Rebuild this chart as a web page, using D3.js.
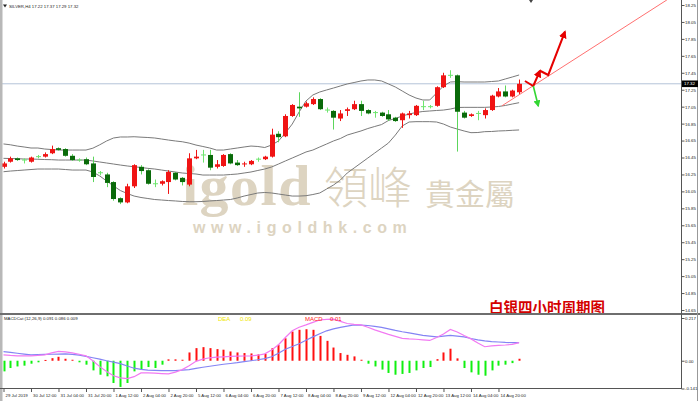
<!DOCTYPE html>
<html><head><meta charset="utf-8">
<script src="https://cdn.jsdelivr.net/npm/d3@7"></script>
<style>body{margin:0;background:#fff;overflow:hidden}svg{display:block}</style>
</head><body><svg id="c" width="700" height="401"></svg>
<script>
// ---------- DATA ----------
const open  = [16.34,16.40,16.44,16.42,16.40,16.46,16.46,16.50,16.56,16.55,16.47,16.42,16.43,16.38,16.27,16.25,16.16,15.97,15.92,16.11,16.34,16.30,16.14,16.14,16.16,16.27,16.21,16.13,16.44,16.48,16.48,16.34,16.35,16.49,16.39,16.37,16.37,16.43,16.43,16.46,16.73,16.70,16.94,17.05,17.05,17.08,17.14,17.01,17.00,16.91,17.00,17.02,17.08,17.01,16.98,16.98,16.96,16.92,16.89,16.95,16.95,17.05,17.05,17.06,17.28,17.42,17.42,16.98,16.94,16.97,16.95,17.01,17.17,17.23,17.17,17.22];
const high  = [16.40,16.46,16.45,16.44,16.46,16.48,16.51,16.59,16.57,16.56,16.49,16.44,16.45,16.46,16.29,16.27,16.17,15.98,16.14,16.37,16.36,16.31,16.19,16.18,16.30,16.28,16.22,16.50,16.54,16.54,16.54,16.42,16.49,16.50,16.42,16.40,16.42,16.45,16.47,16.79,16.76,16.96,17.08,17.22,17.11,17.16,17.15,17.04,17.01,17.01,17.04,17.12,17.12,17.02,17.00,16.99,17.01,16.93,16.98,17.00,17.07,17.12,17.07,17.29,17.45,17.48,17.43,17.00,16.97,17.00,17.03,17.19,17.27,17.30,17.25,17.37];
const low   = [16.32,16.39,16.41,16.38,16.39,16.44,16.45,16.49,16.53,16.46,16.41,16.40,16.36,16.16,16.24,16.10,15.94,15.90,15.91,16.09,16.25,16.13,16.10,16.12,16.02,16.18,16.12,16.11,16.43,16.39,16.30,16.32,16.34,16.37,16.35,16.34,16.36,16.40,16.42,16.45,16.63,16.69,16.93,16.93,17.04,17.07,17.01,16.98,16.78,16.88,16.94,17.01,16.94,16.96,16.92,16.93,16.88,16.87,16.80,16.91,16.94,17.01,17.03,17.05,17.27,17.39,16.52,16.91,16.93,16.89,16.91,17.00,17.16,17.16,17.16,17.20];
const close = [16.38,16.44,16.42,16.42,16.45,16.46,16.49,16.55,16.54,16.47,16.42,16.42,16.37,16.22,16.27,16.15,15.96,15.92,16.11,16.36,16.29,16.14,16.14,16.17,16.28,16.19,16.16,16.44,16.46,16.48,16.33,16.37,16.48,16.38,16.36,16.38,16.41,16.43,16.46,16.72,16.69,16.94,17.07,17.03,17.09,17.14,17.02,17.01,16.92,16.97,17.02,17.08,17.00,16.97,16.98,16.94,16.90,16.88,16.97,16.97,17.06,17.05,17.05,17.28,17.42,17.42,16.99,16.92,16.96,16.97,17.01,17.18,17.23,17.17,17.24,17.32];

const bbUpper = [16.61,16.60,16.585,16.574,16.562,16.562,16.55,16.544,16.538,16.538,16.538,16.538,16.538,16.56,16.60,16.645,16.68,16.692,16.692,16.695,16.69,16.686,16.68,16.668,16.656,16.645,16.636,16.62,16.597,16.58,16.562,16.538,16.538,16.55,16.562,16.574,16.585,16.58,16.568,16.597,16.645,16.739,16.845,16.987,17.117,17.188,17.223,17.247,17.27,17.294,17.318,17.335,17.353,17.365,17.365,17.353,17.318,17.282,17.235,17.188,17.152,17.129,17.129,17.211,17.294,17.341,17.345,17.341,17.341,17.341,17.341,17.347,17.353,17.377,17.40,17.424];
const bbMid   = [16.44,16.438,16.436,16.432,16.432,16.429,16.426,16.424,16.42,16.42,16.42,16.42,16.42,16.409,16.397,16.385,16.373,16.361,16.35,16.341,16.332,16.322,16.314,16.302,16.29,16.279,16.267,16.261,16.255,16.243,16.243,16.243,16.243,16.249,16.255,16.267,16.279,16.297,16.314,16.338,16.373,16.409,16.444,16.479,16.515,16.538,16.574,16.609,16.645,16.674,16.715,16.739,16.763,16.792,16.816,16.839,16.887,16.91,16.94,16.963,16.981,16.993,16.999,17.005,17.01,17.022,17.04,17.042,17.042,17.042,17.042,17.046,17.052,17.064,17.081,17.097];
const bbLower = [16.282,16.29,16.296,16.302,16.308,16.314,16.314,16.314,16.314,16.308,16.302,16.302,16.302,16.279,16.232,16.173,16.114,16.06,16.025,15.995,15.978,15.966,15.954,15.948,15.942,15.937,15.931,15.928,15.928,15.931,15.937,15.942,15.948,15.954,15.972,15.995,16.013,16.031,16.037,16.031,16.019,16.007,15.995,15.995,15.999,16.013,16.031,16.078,16.125,16.184,16.267,16.326,16.385,16.444,16.503,16.562,16.621,16.715,16.822,16.869,16.873,16.873,16.873,16.869,16.845,16.81,16.786,16.763,16.743,16.745,16.755,16.757,16.763,16.766,16.771,16.775];

const macdHist = [-0.054,-0.037,-0.029,-0.025,-0.015,-0.008,0.004,0.013,0.020,0.010,0.005,-0.008,-0.020,-0.049,-0.071,-0.079,-0.113,-0.133,-0.113,-0.054,-0.042,-0.032,-0.037,-0.020,0.007,0.007,0.005,0.042,0.064,0.069,0.064,0.059,0.056,0.047,0.042,0.039,0.037,0.032,0.035,0.064,0.081,0.114,0.148,0.157,0.160,0.157,0.126,0.101,0.067,0.039,0.030,0.022,0.005,-0.015,-0.029,-0.045,-0.062,-0.071,-0.067,-0.062,-0.049,-0.037,-0.032,0.008,0.042,0.061,0.012,-0.037,-0.059,-0.071,-0.076,-0.049,-0.025,-0.020,-0.012,0.010];
const macdLine = [0.030,0.027,0.025,0.025,0.025,0.027,0.030,0.040,0.047,0.045,0.040,0.033,0.025,0.000,-0.030,-0.055,-0.076,-0.087,-0.091,-0.081,-0.062,-0.062,-0.063,-0.065,-0.067,-0.058,-0.045,-0.025,-0.003,0.008,0.015,0.018,0.020,0.022,0.023,0.024,0.025,0.028,0.035,0.055,0.081,0.118,0.152,0.170,0.182,0.195,0.207,0.210,0.211,0.200,0.189,0.185,0.182,0.170,0.157,0.145,0.134,0.124,0.114,0.111,0.109,0.106,0.103,0.118,0.136,0.159,0.146,0.128,0.111,0.090,0.071,0.075,0.078,0.080,0.083,0.092];
const signalLine = [0.046,0.042,0.038,0.034,0.030,0.031,0.032,0.033,0.034,0.035,0.032,0.028,0.022,0.015,0.008,0.000,-0.007,-0.015,-0.027,-0.038,-0.044,-0.048,-0.049,-0.050,-0.050,-0.050,-0.048,-0.045,-0.039,-0.033,-0.028,-0.023,-0.018,-0.014,-0.010,-0.005,0.000,0.005,0.011,0.020,0.038,0.058,0.072,0.086,0.104,0.121,0.137,0.152,0.162,0.169,0.176,0.182,0.181,0.179,0.174,0.169,0.162,0.154,0.147,0.141,0.135,0.129,0.125,0.121,0.125,0.129,0.125,0.121,0.113,0.106,0.101,0.097,0.095,0.093,0.092,0.092];

const timeLabels = ["29 Jul 2019","30 Jul 12:00","31 Jul 04:00","31 Jul 20:00","1 Aug 12:00","2 Aug 04:00","2 Aug 20:00","5 Aug 12:00","6 Aug 04:00","6 Aug 20:00","7 Aug 12:00","8 Aug 04:00","8 Aug 20:00","9 Aug 12:00","12 Aug 04:00","12 Aug 20:00","13 Aug 12:00","14 Aug 04:00","14 Aug 20:00"];
const labelStep = 4;
const priceTicks = [18.25,18.05,17.85,17.65,17.45,17.25,17.05,16.85,16.65,16.45,16.25,16.05,15.85,15.65,15.45,15.25,15.05,14.85,14.65];
const macdTicks = [0.217,0.00,-0.141];
const macdTickText = ["0.217","0.00","-0.141"];
const lastPrice = 17.32;

const trendLine = [{i:72.5,p:17.06},{i:96.5,p:18.31}];
const redArrowA = [{i:75.85,p:17.353},{i:77.06,p:17.294},{i:78.04,p:17.474}];
const redArrowB = [{i:78.04,p:17.474},{i:79.24,p:17.424},{i:81.67,p:17.935}];
const greenArrow = [{i:77.06,p:17.294},{i:77.79,p:17.058}];

const headerText = "SILVER,H4  17.22  17.37  17.29  17.32";
const macdTitle = "MACDCat (12,26,9) 0.091 0.086 0.009";
const chartTitle = "白银四小时周期图";

// ---------- LAYOUT ----------
const svg = d3.select('#c');
const axisX = 681, mainBot = 313, macdTop = 315, macdBot = 388.5;
const x = d3.scaleLinear().domain([0, 75]).range([3.5, 519.1]);
const y = d3.scaleLinear().domain([14.65, 18.25]).range([310, 5]);
const ym = d3.scaleLinear().domain([-0.141, 0.217]).range([388.5, 318]);
const idx = d3.range(close.length);

svg.append('rect').attr('width',700).attr('height',401).attr('fill','#fff');

const defs = svg.append('defs');
defs.append('clipPath').attr('id','mainClip').append('rect').attr('x',0).attr('y',0).attr('width',axisX).attr('height',mainBot);
defs.append('clipPath').attr('id','macdClip').append('rect').attr('x',0).attr('y',macdTop).attr('width',axisX).attr('height',macdBot-macdTop);
function marker(id,color,size){
  defs.append('marker').attr('id',id).attr('viewBox','0 0 10 10').attr('refX',8).attr('refY',5)
    .attr('markerWidth',size).attr('markerHeight',size).attr('markerUnits','userSpaceOnUse').attr('orient','auto')
    .append('path').attr('d','M0,0L10,5L0,10z').attr('fill',color);
}
marker('arR','#e60000',8);
marker('arG','#33d633',7);

// ---------- WATERMARK ----------
const wm = svg.append('g').attr('fill','#ddd4c1');
wm.append('text').attr('x',182).attr('y',205).attr('font-family','"Liberation Serif",serif').attr('font-weight','bold').attr('font-size',58).attr('letter-spacing',1.5).text('igold');
wm.append('text').attr('x',324).attr('y',204).attr('font-family','"Noto Sans CJK TC"').attr('font-weight',300).attr('font-size',44).text('領峰');
wm.append('text').attr('x',425).attr('y',205).attr('font-family','"Noto Sans CJK TC"').attr('font-weight',400).attr('font-size',30).text('貴金屬');
wm.append('text').attr('x',193).attr('y',233).attr('font-family','"Liberation Sans",sans-serif').attr('font-weight','bold').attr('font-size',16).attr('letter-spacing',5.6).text('www.igoldhk.com');

// ---------- MAIN PANEL ----------
const main = svg.append('g').attr('clip-path','url(#mainClip)');
main.append('line').attr('x1',0).attr('x2',axisX).attr('y1',y(lastPrice)).attr('y2',y(lastPrice)).attr('stroke','#b4c4d8').attr('stroke-width',1);

const bandLine = arr => d3.line().x((d,i)=>x(i)).y(d=>y(d))(arr);
[bbUpper,bbMid,bbLower].forEach(a=>{
  main.append('path').attr('d',bandLine(a)).attr('fill','none').attr('stroke','#7a7a7a').attr('stroke-width',1);
});

const up='#f01414', dn='#0a6a0a', dnWick='#5cd65c', doji='#6ee66e';
const cg = main.append('g');
idx.forEach(i=>{
  const o=open[i], c=close[i], h=high[i], l=low[i];
  const cx=Math.round(x(i))+0.5;
  const isUp=c>o, isDoji=c===o;
  const wc = isUp?up:(isDoji?doji:dnWick);
  cg.append('line').attr('x1',cx).attr('x2',cx).attr('y1',y(h)).attr('y2',y(l)).attr('stroke',wc).attr('stroke-width',1);
  if(isDoji){
    cg.append('line').attr('x1',cx-2.5).attr('x2',cx+2.5).attr('y1',y(c)).attr('y2',y(c)).attr('stroke',doji).attr('stroke-width',1);
  } else {
    const top=y(Math.max(o,c)), bot=y(Math.min(o,c));
    cg.append('rect').attr('x',cx-2.5).attr('width',5).attr('y',top).attr('height',Math.max(1,bot-top)).attr('fill',isUp?up:dn);
  }
});

const pl = d3.line().x(d=>x(d.i)).y(d=>y(d.p));
main.append('path').attr('d',pl(trendLine)).attr('stroke','#ff7070').attr('stroke-width',1).attr('fill','none');
main.append('path').attr('d',pl(redArrowA)).attr('stroke','#e60000').attr('stroke-width',2).attr('fill','none').attr('marker-end','url(#arR)');
main.append('path').attr('d',pl(redArrowB)).attr('stroke','#e60000').attr('stroke-width',2).attr('fill','none').attr('marker-end','url(#arR)');
main.append('path').attr('d',pl(greenArrow)).attr('stroke','#33d633').attr('stroke-width',1.6).attr('fill','none').attr('marker-end','url(#arG)');

// header
svg.append('path').attr('d','M3,4.5L7,4.5L5,7.5z').attr('fill','#222');
svg.append('text').attr('x',9).attr('y',7.5).attr('font-family','"Liberation Sans",sans-serif').attr('font-size',4.3).attr('fill','#222').text(headerText);
svg.append('path').attr('d','M529,0L533,0L531,3z').attr('fill','#444');

// chart title
svg.append('text').attr('x',489).attr('y',313).attr('font-family','"Noto Sans CJK SC"').attr('font-weight','bold').attr('font-size',14.5).attr('fill','#d40000').text(chartTitle);

// ---------- MACD PANEL ----------
const mg = svg.append('g').attr('clip-path','url(#macdClip)');
idx.forEach(i=>{
  const v=macdHist[i];
  const cx=Math.round(x(i));
  mg.append('rect').attr('x',cx-0.5).attr('width',2)
    .attr('y',Math.min(ym(0),ym(v))).attr('height',Math.max(1,Math.abs(ym(v)-ym(0))))
    .attr('fill',v>=0?'#ff1010':'#10f010');
});
const ml = d3.line().x((d,i)=>x(i)).y(d=>ym(d));
mg.append('path').attr('d',ml(signalLine)).attr('fill','none').attr('stroke','#8484f4').attr('stroke-width',1.2);
mg.append('path').attr('d',ml(macdLine)).attr('fill','none').attr('stroke','#f27af2').attr('stroke-width',1.2);

svg.append('text').attr('x',4).attr('y',320).attr('font-family','"Liberation Sans",sans-serif').attr('font-size',4.3).attr('fill','#222').text(macdTitle);
const legF='"Liberation Sans",sans-serif';
svg.append('text').attr('x',218).attr('y',321).attr('font-family',legF).attr('font-size',6).attr('fill','#f0e600').text('DEA');
svg.append('text').attr('x',240).attr('y',321).attr('font-family',legF).attr('font-size',6).attr('fill','#f0e600').text('0.09');
svg.append('text').attr('x',305).attr('y',321).attr('font-family',legF).attr('font-size',6).attr('fill','#ff2020').text('MACD');
svg.append('text').attr('x',330).attr('y',321).attr('font-family',legF).attr('font-size',6).attr('fill','#ff2020').text('0.01');

// ---------- FRAMES & AXES ----------
svg.append('rect').attr('x',0).attr('y',0).attr('width',2.5).attr('height',401).attr('fill','#b8b8b8');
svg.append('line').attr('x1',0).attr('x2',700).attr('y1',314).attr('y2',314).attr('stroke','#6e6e6e').attr('stroke-width',2);
svg.append('line').attr('x1',axisX+0.5).attr('x2',axisX+0.5).attr('y1',0).attr('y2',macdBot).attr('stroke','#555').attr('stroke-width',1);
svg.append('line').attr('x1',0).attr('x2',axisX+1).attr('y1',macdBot).attr('y2',macdBot).attr('stroke','#555').attr('stroke-width',1);
svg.append('line').attr('x1',697.5).attr('x2',697.5).attr('y1',0).attr('y2',401).attr('stroke','#999').attr('stroke-width',1);

const yAxis = d3.axisRight(y).tickValues(priceTicks).tickSize(3).tickFormat(d3.format('.2f'));
const ya = svg.append('g').attr('transform',`translate(${axisX+0.5},0)`).call(yAxis);
ya.select('.domain').remove();
ya.selectAll('line').attr('stroke','#555');
ya.selectAll('text').attr('x',3.5).attr('font-size',4.4).attr('font-family',legF).attr('fill','#222');

const mAxis = d3.axisRight(ym).tickValues(macdTicks).tickSize(3).tickFormat((d,i)=>macdTickText[i]);
const ma = svg.append('g').attr('transform',`translate(${axisX+0.5},0)`).call(mAxis);
ma.select('.domain').remove();
ma.selectAll('line').attr('stroke','#555');
ma.selectAll('text').attr('x',3.5).attr('font-size',4.4).attr('font-family',legF).attr('fill','#222');

// last price box
svg.append('rect').attr('x',axisX+1).attr('y',y(lastPrice)-3.3).attr('width',16).attr('height',6.6).attr('fill','#000');
svg.append('text').attr('x',axisX+3).attr('y',y(lastPrice)+1.6).attr('font-size',4.4).attr('font-family',legF).attr('fill','#fff').text(lastPrice.toFixed(2));

const xTickVals = timeLabels.map((d,k)=>k*labelStep);
const xAxis = d3.axisBottom(x).tickValues(xTickVals).tickSize(3.5).tickFormat((d,k)=>timeLabels[k]);
const xa = svg.append('g').attr('transform',`translate(0,${macdBot})`).call(xAxis);
xa.select('.domain').remove();
xa.selectAll('line').attr('stroke','#555');
xa.selectAll('text').attr('x',1.5).attr('y',5).attr('dy','0.71em').attr('text-anchor','start').attr('font-size',4.3).attr('font-family',legF).attr('fill','#222');
</script>
</body></html>
